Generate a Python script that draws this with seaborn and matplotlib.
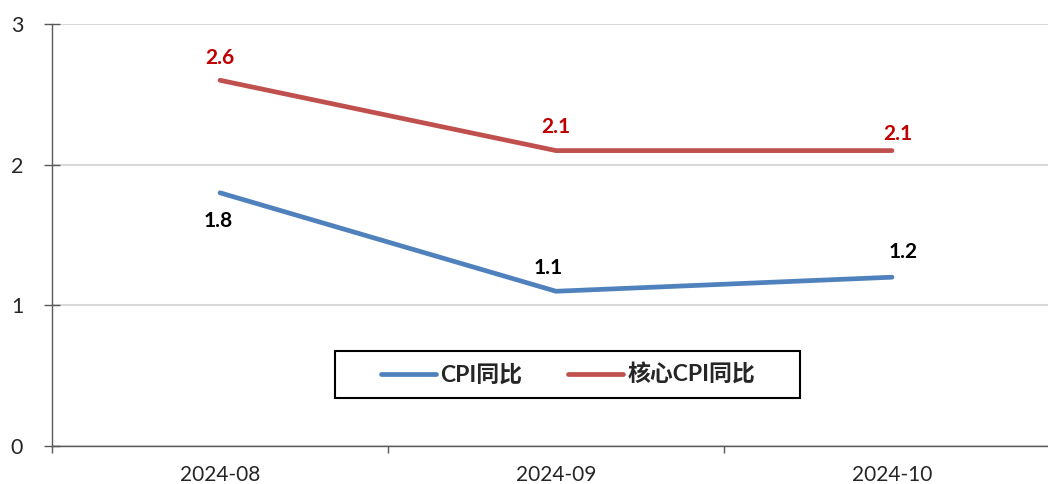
import pandas as pd
import seaborn as sns
import matplotlib.pyplot as plt
from matplotlib.patches import Rectangle
from matplotlib.ticker import FixedLocator

# 数据
months = ['2024-08', '2024-09', '2024-10']
cpi_yoy = [1.8, 1.1, 1.2]
core_cpi_yoy = [2.6, 2.1, 2.1]
series_names = ['CPI同比', '核心CPI同比']

COLORS = {'CPI同比': '#4F81BD', '核心CPI同比': '#C0504D'}
FONT = ['Lato', 'Noto Sans CJK SC', 'DejaVu Sans']


def plot_cpi():
    df = pd.DataFrame({
        'month': months * 2,
        'value': cpi_yoy + core_cpi_yoy,
        'series': [series_names[0]] * 3 + [series_names[1]] * 3,
    })

    sns.set_style('white')
    plt.rcParams['font.family'] = FONT

    fig = plt.figure(figsize=(10.48, 4.84), dpi=100)
    ax = fig.add_axes([52 / 1048, 38 / 484, 1008 / 1048, 422 / 484])

    sns.lineplot(data=df, x='month', y='value', hue='series', palette=COLORS,
                 linewidth=3.4, ax=ax, legend=False, sort=False)
    for line in ax.get_lines():
        line.set_solid_capstyle('round')

    ax.set_xlim(-0.5, 2.5)
    ax.set_ylim(0, 3)
    ax.set_yticks([0, 1, 2, 3])
    ax.set_xticks(range(len(months)))
    ax.set_xticklabels(months)
    ax.xaxis.set_minor_locator(FixedLocator([-0.5, 0.5, 1.5]))
    ax.set_xlabel('')
    ax.set_ylabel('')

    ax.grid(axis='y', color='#D9D9D9', linewidth=1.5)
    ax.grid(axis='x', visible=False)
    ax.set_axisbelow(True)
    for side in ['top', 'right']:
        ax.spines[side].set_visible(False)
    for side in ['left', 'bottom']:
        ax.spines[side].set_color('#595959')
        ax.spines[side].set_linewidth(1.0)

    ax.tick_params(axis='y', which='major', left=True, direction='inout',
                   length=11.5, width=1.0, color='#595959', pad=15, labelsize=15.5)
    ax.tick_params(axis='x', which='major', length=0, pad=14, labelsize=15)
    ax.tick_params(axis='x', which='minor', bottom=True, direction='out',
                   length=5, width=1.0, color='#595959')

    # 数据标签
    cpi_offsets = [(-1, -20), (-6, 17), (8, 18)]
    core_offsets = [(0, 16), (0, 17), (4, 12)]
    for i, (v, off) in enumerate(zip(cpi_yoy, cpi_offsets)):
        ax.annotate(f'{v:.1f}', (i, v), xytext=off, textcoords='offset points',
                    ha='center', va='center', fontsize=15, fontweight='bold',
                    color='black')
    for i, (v, off) in enumerate(zip(core_cpi_yoy, core_offsets)):
        ax.annotate(f'{v:.1f}', (i, v), xytext=off, textcoords='offset points',
                    ha='center', va='center', fontsize=15, fontweight='bold',
                    color='#C00000')

    # 图例
    handles = [plt.Line2D([], [], color=COLORS[s], linewidth=3.4,
                          solid_capstyle='round') for s in series_names]
    ax.legend(handles, series_names, loc='center', bbox_to_anchor=(0.512, 0.169),
              ncol=2, frameon=False, handlelength=2.4, handletextpad=0.2,
              columnspacing=2.0, prop={'family': FONT, 'weight': 'bold', 'size': 16.5})
    ax.add_patch(Rectangle((283 / 1008, 48 / 422), 465 / 1008, 47 / 422,
                           transform=ax.transAxes, fill=False,
                           edgecolor='black', linewidth=1.5, zorder=5))

    fig.savefig('out.png', dpi=100)


if __name__ == "__main__":
    plot_cpi()
